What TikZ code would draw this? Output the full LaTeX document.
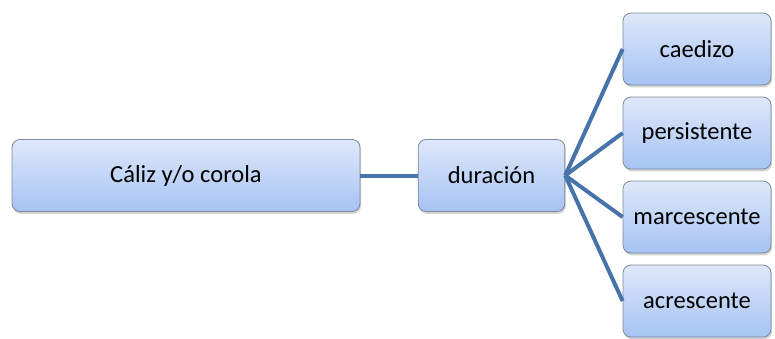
\documentclass[tikz,border=0pt]{standalone}
\usepackage{fontspec}
\setmainfont{Carlito}
\usetikzlibrary{shadows}

\definecolor{boxtop}{RGB}{222,232,250}
\definecolor{boxbottom}{RGB}{166,195,243}
\definecolor{boxline}{RGB}{124,136,156}
\definecolor{linkblue}{RGB}{70,116,170}

\tikzset{every picture/.style={line width=0.75pt}}
\tikzset{
  blockbox/.style={draw=boxline, line width=0.6pt, rounded corners=6pt,
    top color=boxtop, bottom color=boxbottom, minimum height=54pt,
    inner sep=0.75pt, font=\fontsize{18.4}{22}\selectfont,
    drop shadow={shadow xshift=0.8pt, shadow yshift=-1.8pt, opacity=0.35}},
  link/.style={draw=linkblue, line width=3pt}
}

\begin{document}
\begin{tikzpicture}[x=0.75pt,y=0.75pt,yscale=-1,xscale=1]
        \path (0,0) rectangle (775,339); %set diagram size

        %Shape: Rounded Rect [id:root]
        \node [blockbox, minimum width=261pt] (caliz) at (186,175.5) {Cáliz y/o corola};
        %Shape: Rounded Rect [id:duracion]
        \node [blockbox, minimum width=110pt] (duracion) at (491.5,175.5) {duración};
        %Shape: Rounded Rect [id:leaves]
        \node [blockbox, minimum width=111pt] (caedizo) at (697,49) {caedizo};
        \node [blockbox, minimum width=111pt] (persistente) at (697,133) {persistente};
        \node [blockbox, minimum width=111pt] (marcescente) at (697,217) {marcescente};
        \node [blockbox, minimum width=111pt] (acrescente) at (697,301) {acrescente};

        %Straight Lines [id:links]
        \draw [link] (caliz.east) -- (duracion.west) ;
        \draw [link] (duracion.east) -- (caedizo.west) ;
        \draw [link] (duracion.east) -- (persistente.west) ;
        \draw [link] (duracion.east) -- (marcescente.west) ;
        \draw [link] (duracion.east) -- (acrescente.west) ;

    \end{tikzpicture}
\end{document}
